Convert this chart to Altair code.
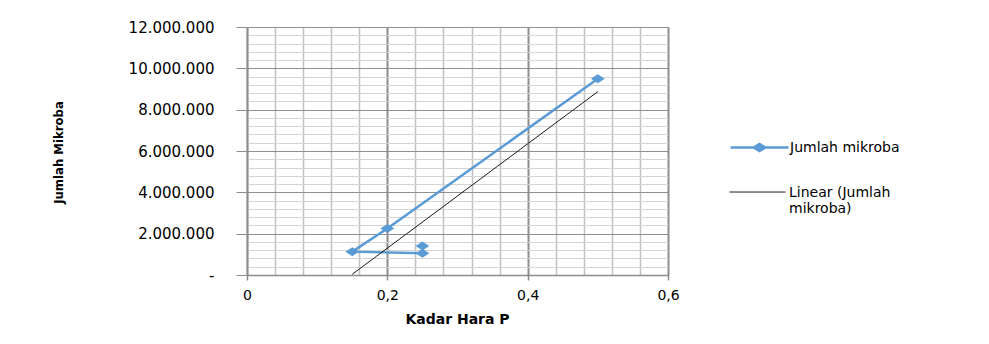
import altair as alt
import pandas as pd

# Data
kadar = [0.25, 0.25, 0.15, 0.20, 0.50]
jumlah = [1400000, 1050000, 1130000, 2250000, 9500000]
urutan = [1, 2, 3, 4, 5]
seri_data = "Jumlah mikroba"
seri_trend = "Linear (Jumlah mikroba)"

x_grid = [0, 0.04, 0.08, 0.12, 0.16, 0.2, 0.24, 0.28, 0.32, 0.36, 0.4,
          0.44, 0.48, 0.52, 0.56, 0.6]
y_grid = list(range(0, 12000001, 400000))

df = pd.DataFrame({"kadar": kadar, "jumlah": jumlah, "urutan": urutan,
                   "seri": [seri_data] * len(kadar)})

BLUE = "#5b9bd5"
TXT = "DejaVu Sans"
NARROW = "'DejaVu Sans Condensed', 'Liberation Sans Narrow', 'Roboto Condensed', 'DejaVu Sans', sans-serif"
major_x = "abs(datum.value*5 - round(datum.value*5)) < 0.001"
major_y = "datum.value % 2000000 == 0"

x_axis = alt.Axis(
    values=x_grid,
    tickCount=200,
    grid=True,
    gridColor={"condition": {"test": major_x, "value": "#8c8c8c"}, "value": "#c2c2c2"},
    gridWidth={"condition": {"test": major_x, "value": 2}, "value": 1.6},
    tickColor={"condition": {"test": major_x, "value": "#8c8c8c"}, "value": "transparent"},
    tickSize=5,
    tickWidth=1.5,
    domainColor="#8c8c8c",
    domainWidth=1.5,
    labelExpr=f"{major_x} ? replace(format(datum.value, '~g'), '.', ',') : ''",
    labelFont=TXT,
    labelFontSize=14,
    labelColor="#000000",
    labelPadding=8,
    labelOverlap=False,
    labelFlush=False,
    title="Kadar Hara P",
    titleFont=TXT,
    titleFontSize=14,
    titleFontWeight="bold",
    titleColor="#000000",
    titleX=210,
    titleY=44,
    titleBaseline="middle",
    titleAlign="center",
)

y_axis = alt.Axis(
    values=y_grid,
    tickCount=200,
    grid=True,
    gridColor={"condition": {"test": major_y, "value": "#8f8f8f"}, "value": "#d4d4d4"},
    gridWidth=1,
    tickColor={"condition": {"test": major_y, "value": "#8c8c8c"}, "value": "transparent"},
    tickSize=11,
    domainColor="#8c8c8c",
    domainWidth=1.5,
    labelExpr=("datum.value == 0 ? '-' : (" + major_y +
               " ? replace(format(datum.value, ','), regexp(',', 'g'), '.') : '')"),
    labelFont=TXT,
    labelFontSize=15,
    labelColor="#000000",
    labelPadding=22,
    labelOverlap=False,
    labelFlush=False,
    title="Jumlah Mikroba",
    titleFont=NARROW,
    titleFontSize=13,
    titleFontWeight="bold",
    titleColor="#000000",
    titleAngle=270,
    titleX=-189,
    titleY=125,
    titleBaseline="middle",
    titleAlign="center",
)

x_enc = alt.X("kadar:Q", scale=alt.Scale(domain=[0, 0.6], nice=False, zero=False), axis=x_axis)
y_enc = alt.Y("jumlah:Q", scale=alt.Scale(domain=[0, 12000000], nice=False), axis=y_axis)

base = alt.Chart(df)

data_line = base.mark_line(
    strokeWidth=2.5,
    point=alt.OverlayMarkDef(shape="M-1,0L0,-0.65L1,0L0,0.65Z", size=190,
                             filled=True, color=BLUE),
).encode(
    x=x_enc,
    y=y_enc,
    order=alt.Order("urutan:Q"),
    color=alt.Color(
        "seri:N",
        scale=alt.Scale(domain=[seri_data], range=[BLUE]),
        legend=alt.Legend(
            title=None, orient="none", legendX=482, legendY=90, padding=0,
            symbolType="M-1,0H1M-0.2,0L0,-0.12L0.2,0L0,0.12Z",
            symbolSize=3364, symbolStrokeWidth=2.5,
            symbolStrokeColor=BLUE, symbolFillColor=BLUE,
            labelFont=TXT, labelFontSize=14, labelColor="#000000",
            labelOffset=0, labelBaseline="middle", labelLimit=300,
        ),
    ),
)

trend = base.transform_regression("kadar", "jumlah").transform_calculate(
    seri=f"'{seri_trend}'"
).mark_line(strokeWidth=1).encode(
    x="kadar:Q",
    y="jumlah:Q",
    color=alt.Color(
        "seri:N",
        scale=alt.Scale(domain=[seri_trend], range=["#1a1a1a"]),
        legend=alt.Legend(
            title=None, orient="none", legendX=482, legendY=141, padding=0,
            symbolType="M-1,-0.16H1",
            symbolSize=3136, symbolStrokeWidth=1,
            symbolStrokeColor="#1a1a1a", symbolFillColor="transparent",
            labelFont=TXT, labelFontSize=14, labelColor="#000000",
            labelOffset=3, labelBaseline="alphabetic", labelLimit=300,
            labelExpr="datum.label == 'Linear (Jumlah mikroba)' ? ['Linear (Jumlah', 'mikroba)'] : datum.label",
        ),
    ),
)

chart = alt.layer(data_line, trend).resolve_scale(color="independent").properties(
    width=421,
    height=248,
    autosize=alt.AutoSizeParams(type="none"),
    padding={"left": 239, "top": 19, "right": 313, "bottom": 61},
    background="#ffffff",
).configure_view(stroke=None)

chart.save("out.html", embed_options={"renderer": "svg", "actions": False})
